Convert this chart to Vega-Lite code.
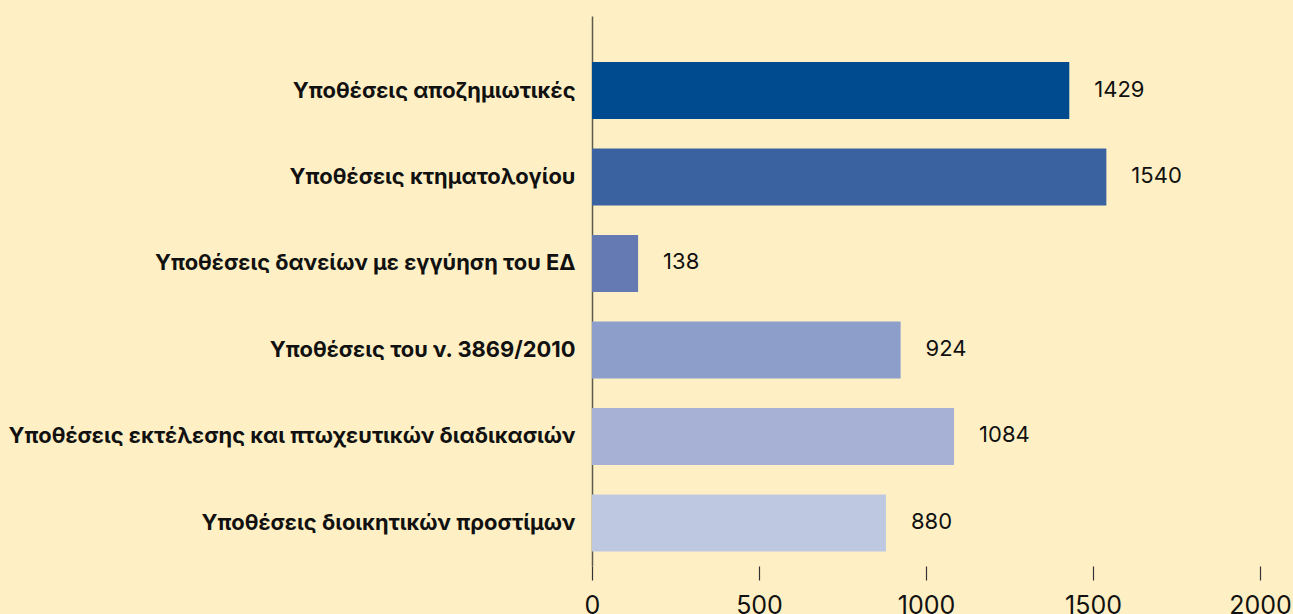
{
  "$schema": "https://vega.github.io/schema/vega-lite/v6.json",
  "autosize": {"type": "none"},
  "width": 668,
  "height": 550,
  "padding": {"left": 592, "top": 16, "right": 33, "bottom": 48},
  "background": "#fef0c4",
  "config": {
    "view": {"stroke": null},
    "font": "Inter"
  },
  "data": {
    "values": [
      {"category": "Υποθέσεις αποζημιωτικές", "value": 1429, "color": "#004a8f"},
      {"category": "Υποθέσεις κτηματολογίου", "value": 1540, "color": "#3a62a0"},
      {"category": "Υποθέσεις δανείων με εγγύηση του ΕΔ", "value": 138, "color": "#6579b3"},
      {"category": "Υποθέσεις του ν. 3869/2010", "value": 924, "color": "#8d9eca"},
      {"category": "Υποθέσεις εκτέλεσης και πτωχευτικών διαδικασιών", "value": 1084, "color": "#a6b1d5"},
      {"category": "Υποθέσεις διοικητικών προστίμων", "value": 880, "color": "#bfc8e1"}
    ]
  },
  "encoding": {
    "y": {
      "field": "category",
      "type": "nominal",
      "sort": null,
      "scale": {"paddingInner": 0.341, "paddingOuter": 0.35, "align": 0.76},
      "axis": {
        "title": null,
        "ticks": false,
        "domainColor": "#5b5a4c",
        "domainWidth": 1.5,
        "labelFont": "Inter",
        "labelFontWeight": "bold",
        "labelFontSize": 21.9,
        "labelColor": "#111111",
        "labelPadding": 17,
        "labelLimit": 700
      }
    },
    "x": {
      "field": "value",
      "type": "quantitative",
      "scale": {"domain": [0, 2000], "nice": false},
      "axis": {
        "title": null,
        "domain": false,
        "grid": false,
        "values": [0, 500, 1000, 1500, 2000],
        "format": "d",
        "tickSize": 14,
        "tickColor": "#333333",
        "tickWidth": 1.2,
        "labelFont": "Inter",
        "labelFontSize": 25,
        "labelColor": "#111111",
        "labelPadding": 13,
        "labelFlush": false
      }
    }
  },
  "layer": [
    {
      "mark": {"type": "bar"},
      "encoding": {
        "color": {"field": "color", "type": "nominal", "scale": null, "legend": null}
      }
    },
    {
      "mark": {"type": "text", "align": "left", "baseline": "middle", "dx": 25, "dy": -1, "fontSize": 22, "font": "Inter", "color": "#111111"},
      "encoding": {
        "text": {"field": "value", "type": "quantitative", "format": "d"}
      }
    }
  ]
}
